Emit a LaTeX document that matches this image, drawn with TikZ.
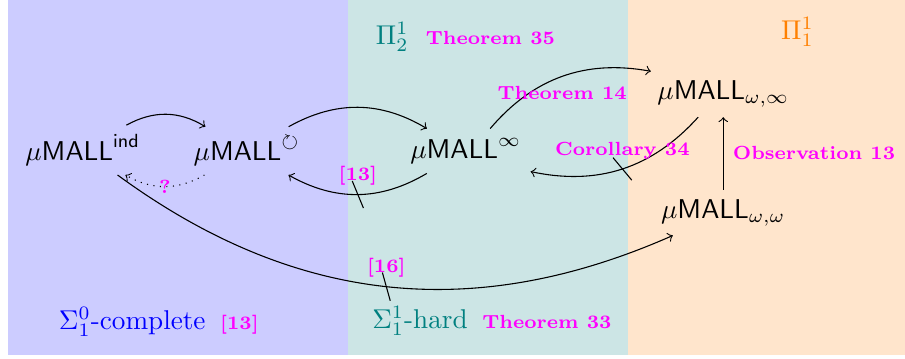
\documentclass[tikz,border=0pt]{standalone}
\usepackage{amssymb}
\usepackage{amsmath}
\usetikzlibrary{positioning,decorations.markings}
\definecolor{pink}{rgb}{1,0,1}

\begin{document}
\begin{tikzpicture}
    \tikzset{%
      sys/.style={anchor=base},
      lbl/.style={pink, font=\scriptsize\bfseries},
      cls/.style={inner sep=0pt},
      notimp/.style={postaction={decorate}, decoration={markings,
        mark=at position 0.5 with {\draw[-] (-2pt,5pt) -- (2pt,-5pt);}}},
    }
    \useasboundingbox (0,0) rectangle (11.70,-4.63);
    \fill[blue!20] (0.10,0) rectangle (4.50,-4.59);
    \fill[teal!20] (4.50,0) rectangle (8.12,-4.59);
    \fill[orange!20] (8.12,0) rectangle (11.70,-4.59);

    \node[sys] (ind) at (1.07,-2.07) {$\mu\mathsf{MALL}^{\mathsf{ind}}$};
    \node[sys] (cyc) at (3.19,-2.07) {$\mu\mathsf{MALL}^{\circlearrowright}$};
    \node[sys] (inf) at (6.02,-2.05) {$\mu\mathsf{MALL}^{\infty}$};
    \node[sys] (winf) at (9.35,-1.29) {$\mu\mathsf{MALL}_{\omega,\infty}$};
    \node[sys] (ww) at (9.35,-2.82) {$\mu\mathsf{MALL}_{\omega,\omega}$};

    \node[cls, teal] (pi2) at (5.07,-0.48) {$\Pi^1_2$};
    \node[cls, lbl, base right=6pt of pi2] (thm35) {Theorem 35};
    \node[cls, orange] (pi1) at (10.31,-0.41) {$\Pi^1_1$};
    \node[cls, blue] (sig0) at (1.71,-4.16) {$\Sigma^0_1$-complete};
    \node[cls, lbl, base right=5pt of sig0] (ref13) {[13]};
    \node[cls, teal] (sig1) at (5.43,-4.15) {$\Sigma^1_1$-hard};
    \node[cls, lbl, base right=5pt of sig1] (thm33) {Theorem 33};

    \draw[->] (ind) to[bend left] (cyc);
    \draw[->] (cyc) to[bend left] (inf);
    \draw[->, notimp] (inf) to[bend left] node[above, lbl] {[13]} (cyc);
    \draw[->, dotted] (cyc) to[bend left] node[lbl] {?} (ind);
    \draw[->] (inf) to[bend left] node[below, lbl] {Theorem 14} (winf);
    \draw[->, notimp] (winf) to[bend left] node[above, lbl] {Corollary 34} (inf);
    \draw[->] (ww) -- node[right, lbl] {Observation 13} (winf);
    \draw[->, notimp] (ind) to[bend right] node[above, lbl] {[16]} (ww);
\end{tikzpicture}
\end{document}
